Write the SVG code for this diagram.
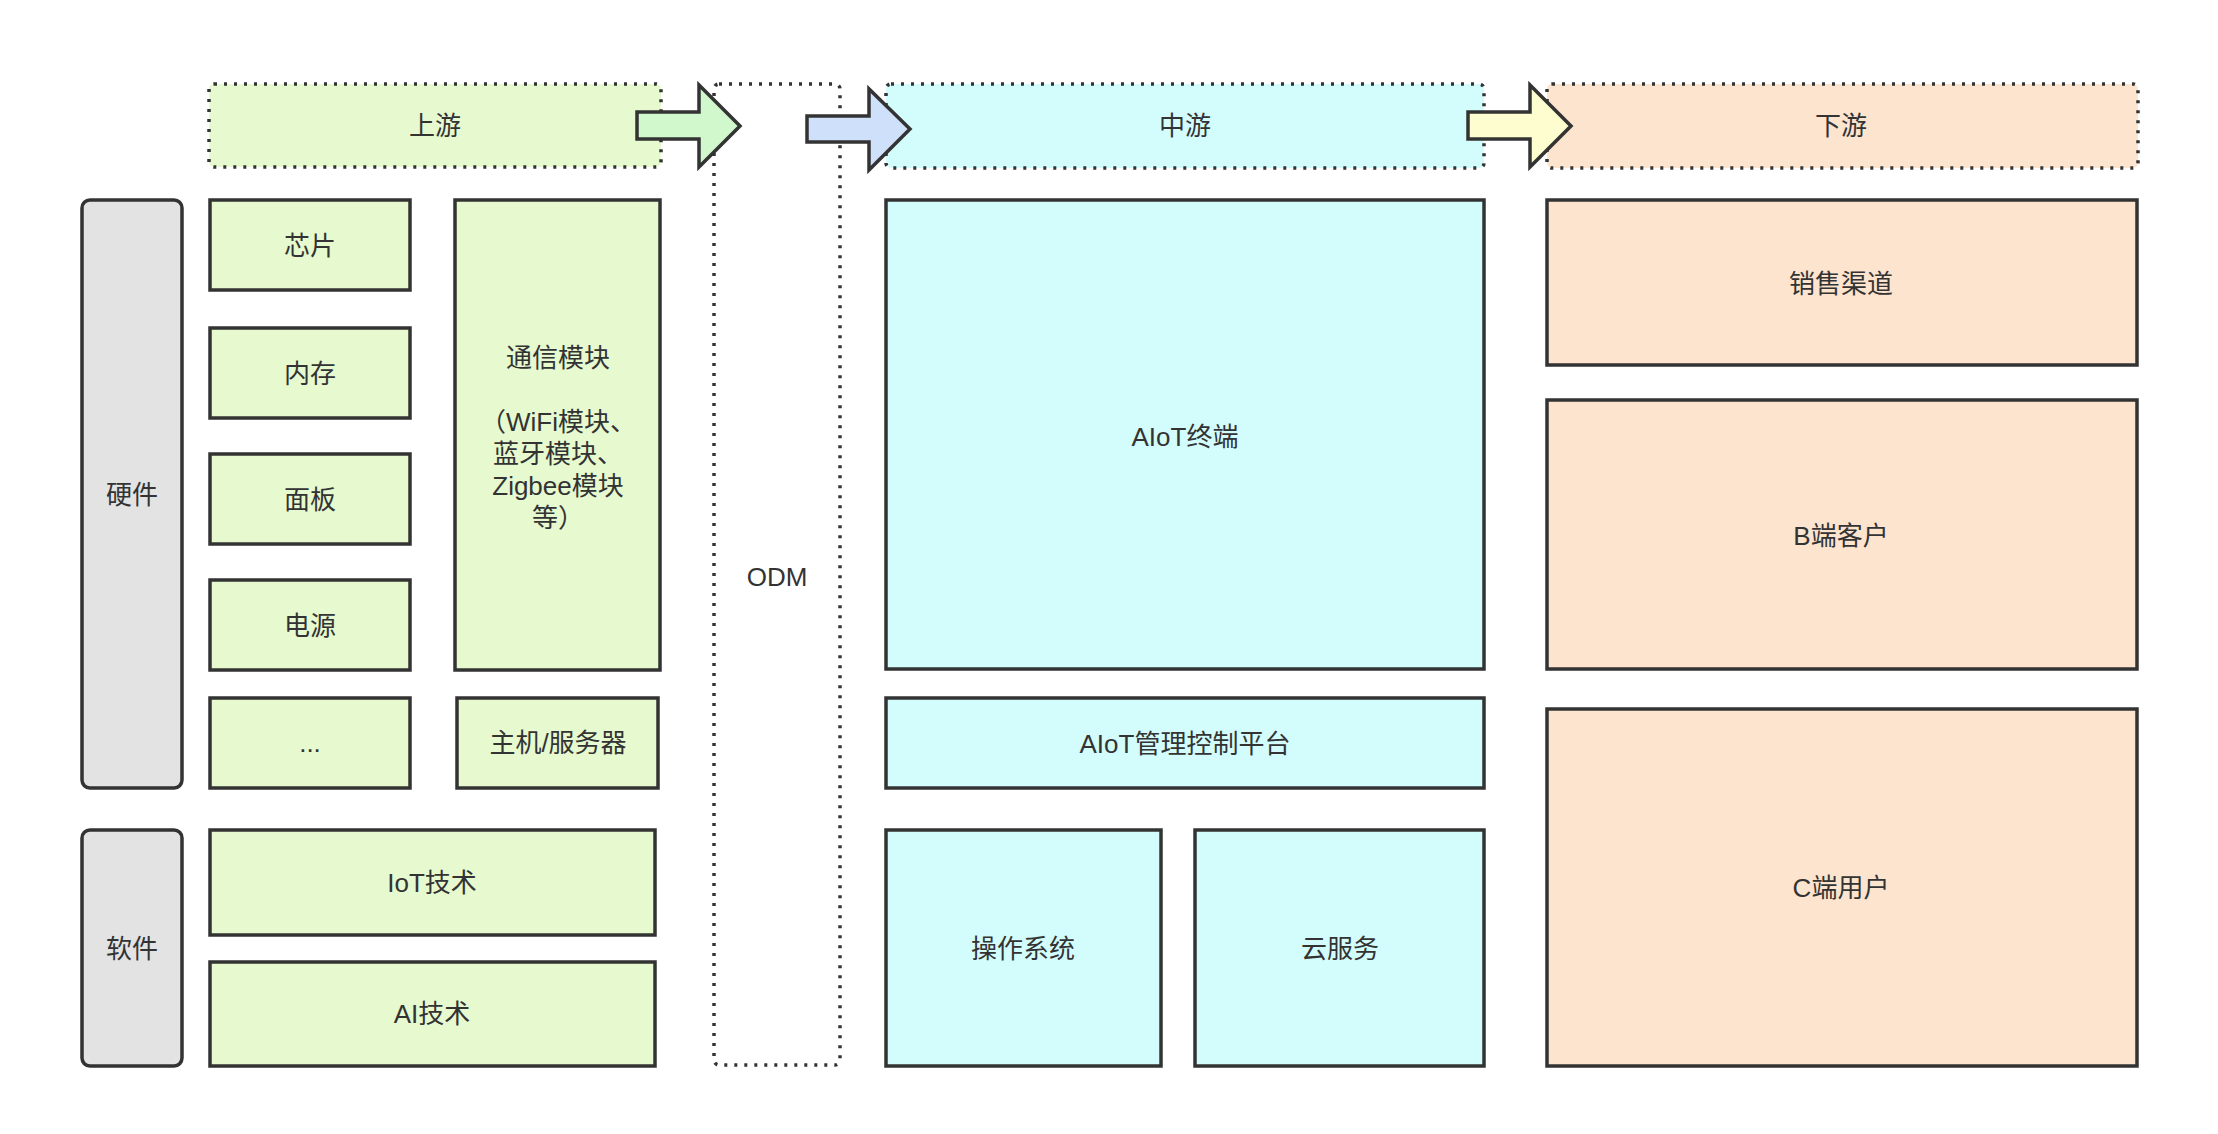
<svg xmlns="http://www.w3.org/2000/svg" width="2218" height="1134" viewBox="0 0 2218 1134">
<style>
  text { font-family: "Liberation Sans", "Noto Sans CJK SC", sans-serif; font-size: 26px; fill: #333333; text-anchor: middle; dominant-baseline: central; }
  .box { stroke: #333333; stroke-width: 3.5; }
  .dot { stroke: #333333; stroke-width: 3.5; stroke-dasharray: 3 7; fill: none; }
  .g { fill: #e6f9cf; }
  .c { fill: #d3fdfd; }
  .o { fill: #fce4cf; }
  .gray { fill: #e3e3e3; }
  .arrow { stroke: #333333; stroke-width: 3.5; stroke-linejoin: miter; }
</style>
<rect width="2218" height="1134" fill="#ffffff"/>

<g id="header-upstream">
  <rect x="209" y="84" width="452" height="83" rx="5" class="g"/>
  <rect x="209" y="84" width="452" height="83" rx="5" class="dot"/>
  <text x="435" y="126">上游</text>
</g>
<g id="odm">
  <rect x="714" y="84" width="126" height="981" rx="5" class="dot"/>
  <text x="777" y="577">ODM</text>
</g>
<g id="header-midstream">
  <rect x="886" y="84" width="598" height="84" rx="5" class="c"/>
  <rect x="886" y="84" width="598" height="84" rx="5" class="dot"/>
  <text x="1185" y="126">中游</text>
</g>
<g id="header-downstream">
  <rect x="1547" y="84" width="591" height="84" rx="5" class="o"/>
  <rect x="1547" y="84" width="591" height="84" rx="5" class="dot"/>
  <text x="1841" y="126">下游</text>
</g>

<g id="hardware">
  <rect x="82" y="200" width="100" height="588" rx="8" class="box gray"/>
  <text x="132" y="495">硬件</text>
</g>
<g id="software">
  <rect x="82" y="830" width="100" height="236" rx="8" class="box gray"/>
  <text x="132" y="949">软件</text>
</g>

<g id="chip">
  <rect x="210" y="200" width="200" height="90" class="box g"/>
  <text x="310" y="246">芯片</text>
</g>
<g id="memory">
  <rect x="210" y="328" width="200" height="90" class="box g"/>
  <text x="310" y="374">内存</text>
</g>
<g id="panel">
  <rect x="210" y="454" width="200" height="90" class="box g"/>
  <text x="310" y="500">面板</text>
</g>
<g id="power">
  <rect x="210" y="580" width="200" height="90" class="box g"/>
  <text x="310" y="626">电源</text>
</g>
<g id="etc">
  <rect x="210" y="698" width="200" height="90" class="box g"/>
  <text x="310" y="743">...</text>
</g>
<g id="comm-module">
  <rect x="455" y="200" width="205" height="470" class="box g"/>
  <text x="558" y="358">通信模块</text>
  <text x="558" y="422">（WiFi模块、</text>
  <text x="558" y="454">蓝牙模块、</text>
  <text x="558" y="486">Zigbee模块</text>
  <text x="558" y="518">等）</text>
</g>
<g id="host-server">
  <rect x="457" y="698" width="201" height="90" class="box g"/>
  <text x="558" y="743">主机/服务器</text>
</g>
<g id="iot-tech">
  <rect x="210" y="830" width="445" height="105" class="box g"/>
  <text x="432" y="883">IoT技术</text>
</g>
<g id="ai-tech">
  <rect x="210" y="962" width="445" height="104" class="box g"/>
  <text x="432" y="1014">AI技术</text>
</g>

<g id="aiot-terminal">
  <rect x="886" y="200" width="598" height="469" class="box c"/>
  <text x="1185" y="437">AIoT终端</text>
</g>
<g id="aiot-platform">
  <rect x="886" y="698" width="598" height="90" class="box c"/>
  <text x="1185" y="744">AIoT管理控制平台</text>
</g>
<g id="os">
  <rect x="886" y="830" width="275" height="236" class="box c"/>
  <text x="1023" y="949">操作系统</text>
</g>
<g id="cloud">
  <rect x="1195" y="830" width="289" height="236" class="box c"/>
  <text x="1340" y="949">云服务</text>
</g>

<g id="sales">
  <rect x="1547" y="200" width="590" height="165" class="box o"/>
  <text x="1841" y="284">销售渠道</text>
</g>
<g id="b-customer">
  <rect x="1547" y="400" width="590" height="269" class="box o"/>
  <text x="1841" y="536">B端客户</text>
</g>
<g id="c-user">
  <rect x="1547" y="709" width="590" height="357" class="box o"/>
  <text x="1841" y="888">C端用户</text>
</g>

<g id="connectors">
  <polygon class="arrow" fill="#d1f7cd" points="637,112 699,112 699,85 740,126 699,167 699,139 637,139"/>
  <polygon class="arrow" fill="#cfe0fa" points="807,116 869,116 869,89 910,129 869,170 869,142 807,142"/>
  <polygon class="arrow" fill="#fdfdcf" points="1468,112 1530,112 1530,85 1571,126 1530,167 1530,139 1468,139"/>
</g>
</svg>
